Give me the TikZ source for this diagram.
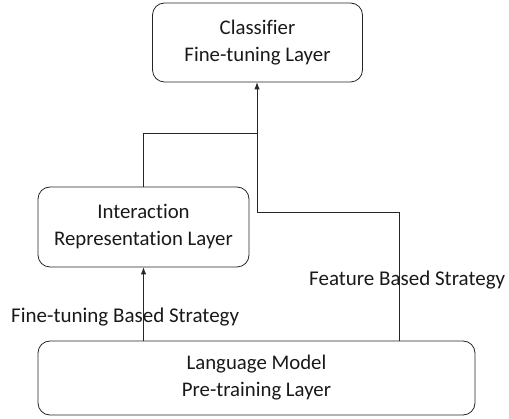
\documentclass[tikz,border=0pt]{standalone}
\usepackage{fontspec}
\setmainfont{Carlito}[Ligatures=NoCommon]
\usetikzlibrary{arrows.meta}
\begin{document}
\begin{tikzpicture}[x=1pt,y=-1pt,
  box/.style={draw=black!85, rounded corners=12pt, line width=0.8pt, align=center,
    font=\fontsize{20.8}{27}\selectfont, inner sep=0pt, text=black!90},
  conn/.style={draw=black!85, line width=0.8pt},
  arr/.style={conn, -{Latex[length=7pt,width=5.5pt]}},
  lbl/.style={font=\fontsize{21}{24}\selectfont, inner sep=0pt, text=black!90}]
\useasboundingbox (0,0) rectangle (509,419);
\node[box, minimum width=210pt, minimum height=79pt] (cls) at (257.5,42.5) {Classifier\\Fine-tuning Layer};
\node[box, minimum width=211pt, minimum height=80pt] (inter) at (143.5,227) {Interaction\\Representation Layer};
\node[box, minimum width=437pt, minimum height=74pt] (lang) at (256.5,378) {Language Model\\Pre-training Layer};
\coordinate (f1) at (399,212);
\coordinate (f2) at (257,212);
\coordinate (j) at (144,133);
\draw[arr] (lang.north -| inter) -- (inter.south);
\draw[arr] (lang.north -| f1) -- (f1) -- (f2) -- (cls.south -| f2);
\draw[conn] (inter.north) -- (inter.north |- j) -- (j -| f2);
\node[lbl, anchor=west] (ft) at (11,317) {Fine-tuning Based Strategy};
\node[lbl, anchor=west] (fb) at (309,280) {Feature Based Strategy};
\end{tikzpicture}
\end{document}
